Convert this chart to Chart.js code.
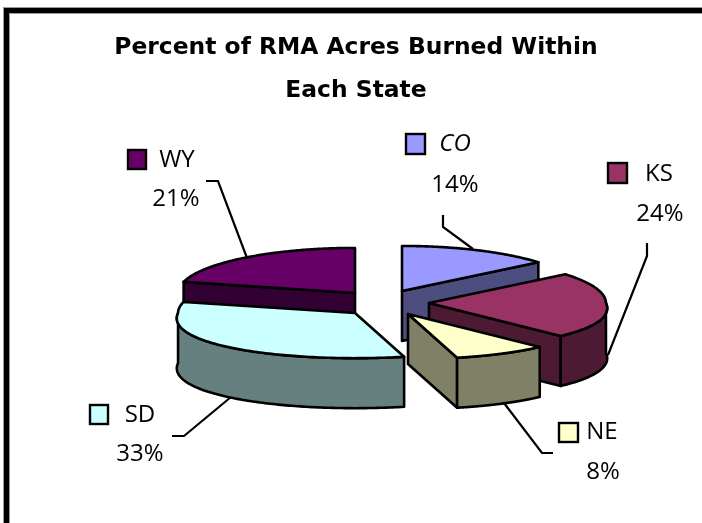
<!DOCTYPE html>
<html>
<head>
<meta charset="utf-8">
<style>html,body{margin:0;padding:0;background:#fff}#wrap{position:absolute;left:0;top:0;width:702px;height:523px}</style>
<script src="https://cdn.jsdelivr.net/npm/chart.js@4/dist/chart.umd.min.js"></script>
</head>
<body>
<div id="wrap"><canvas id="c" width="702" height="523"></canvas></div>
<script>
const states = ['CO', 'KS', 'NE', 'SD', 'WY'];
const percents = [14, 24, 8, 33, 21];
const titleLines = ['Percent of RMA Acres Burned Within', 'Each State'];
const topColors = ['#9999FF', '#993366', '#FFFFCC', '#CCFFFF', '#660066'];
const sideColors = ['#4D4D80', '#4D1A33', '#808066', '#668080', '#330033'];

/* view settings of the tilted, exploded pie */
const TILT = 0.255, DEPTH = 50, PERSP = 0.12;
const EXPLODE = [[21, -12], [48, 0], [27, 11], [-26, 10], [-26, -10]];
const TEXT_FONT = '24px "Open Sans"';

/* callout placement: key box, name, percent, leader polyline */
const callouts = [
  {key:[406,134,19,20], nameX:455, nameY:144, italic:true, pctX:455, pctY:185, leader:[[443,215],[443,227],[473,249]]},
  {key:[608,163,19,20], nameX:659, nameY:174, pctX:660, pctY:214, leader:[[647,243],[647,256],[608,355]]},
  {key:[559,423,19,19], nameX:602, nameY:432, pctX:603, pctY:472, leader:[[553,453],[542,453],[504,403]]},
  {key:[90,405,18,19], nameX:140, nameY:415, pctX:140, pctY:454, leader:[[172,436],[184,436],[231,397]]},
  {key:[128,150,18,19], nameX:177, nameY:160, pctX:176, pctY:199, leader:[[206,181],[218,181],[247,258]]}
];

const pie3d = {
  id: 'pie3d',
  afterLayout(chart) {
    chart.titleBlock.left = 0;
    chart.titleBlock.right = 712;
  },
  beforeDraw(chart) {
    const g = chart.ctx;
    g.save();
    g.fillStyle = '#fff';
    g.fillRect(0, 0, 702, 523);
    g.fillStyle = '#9a9a9a';
    g.fillRect(3, 7, 699, 7);
    g.fillRect(3, 7, 7, 516);
    g.fillStyle = '#000';
    g.fillRect(4, 8, 698, 5);
    g.fillRect(4, 8, 5, 515);
    g.restore();
  },
  beforeDatasetsDraw(chart) {
    const g = chart.ctx;
    const arcs = chart.getDatasetMeta(0).data;
    const slices = arcs.map((arc, i) => {
      const p = arc.getProps(['x', 'y', 'startAngle', 'endAngle', 'outerRadius'], true);
      const mid = (p.startAngle + p.endAngle) / 2;
      return {i, mid, a0: p.startAngle, a1: p.endAngle, r: p.outerRadius,
        cx: p.x + EXPLODE[i][0],
        cy: p.y + EXPLODE[i][1]};
    });
    const at = (s, a, dz) => {
      const v = Math.sin(a);
      return [s.cx + s.r * Math.cos(a) * (1 + PERSP * Math.max(v, 0)),
              s.cy + s.r * v * TILT + dz];
    };
    const shape = (pts, fill) => {
      g.beginPath();
      pts.forEach((q, n) => n ? g.lineTo(q[0], q[1]) : g.moveTo(q[0], q[1]));
      g.closePath();
      g.fillStyle = fill;
      g.fill();
      g.stroke();
    };
    const rim = (s, from, to, dz) => {
      const out = [], n = 120;
      for (let k = 0; k <= n; k++) out.push(at(s, from + (to - from) * k / n, dz));
      return out;
    };
    g.save();
    g.strokeStyle = '#000';
    g.lineWidth = 2.6;
    g.lineJoin = 'round';
    slices.slice().sort((a, b) => Math.sin(a.mid) - Math.sin(b.mid)).forEach(s => {
      const side = sideColors[s.i];
      const apex = [s.cx, s.cy], apexLow = [s.cx, s.cy + DEPTH];
      const walls = [];
      if (Math.cos(s.a0) < -1e-6) walls.push(s.a0);
      if (Math.cos(s.a1) > 1e-6) walls.push(s.a1);
      walls.forEach(a => shape([apex, at(s, a, 0), at(s, a, DEPTH), apexLow], side));
      /* outer wall: the part of the rim that faces the viewer */
      const lo = Math.PI * 2;
      for (const [u, w] of [[0, Math.PI], [lo, lo + Math.PI]]) {
        const from = Math.max(s.a0, u), to = Math.min(s.a1, w);
        if (to > from) shape(rim(s, from, to, 0).concat(rim(s, to, from, DEPTH)), side);
      }
      shape([apex].concat(rim(s, s.a0, s.a1, 0)), topColors[s.i]);
    });
    g.restore();
    return false;
  },
  afterDraw(chart) {
    const g = chart.ctx;
    g.save();
    g.textAlign = 'center';
    g.textBaseline = 'middle';
    g.strokeStyle = '#000';
    callouts.forEach((c, i) => {
      g.lineWidth = 2.2;
      g.beginPath();
      c.leader.forEach((q, n) => n ? g.lineTo(q[0], q[1]) : g.moveTo(q[0], q[1]));
      g.stroke();
      g.lineWidth = 2.4;
      g.fillStyle = topColors[i];
      g.fillRect(c.key[0], c.key[1], c.key[2], c.key[3]);
      g.strokeRect(c.key[0], c.key[1], c.key[2], c.key[3]);
      g.fillStyle = '#000';
      g.font = (c.italic ? 'italic ' : '') + TEXT_FONT;
      g.fillText(states[i], c.nameX, c.nameY);
      g.font = TEXT_FONT;
      g.fillText(percents[i] + '%', c.pctX, c.pctY);
    });
    g.restore();
  }
};

new Chart(document.getElementById('c'), {
  type: 'pie',
  data: {
    labels: states,
    datasets: [{data: percents, backgroundColor: topColors, borderWidth: 0}]
  },
  plugins: [pie3d],
  options: {
    responsive: false,
    animation: false,
    layout: {padding: {left: 204, right: 144, top: 0, bottom: 43}},
    plugins: {
      legend: {display: false},
      tooltip: {enabled: false},
      title: {
        display: true,
        text: titleLines,
        color: '#000',
        font: {family: '"DejaVu Sans"', weight: 'bold', size: 23.4, lineHeight: 1.84},
        padding: {top: 26, bottom: 14}
      }
    }
  }
});
</script>
</body>
</html>
